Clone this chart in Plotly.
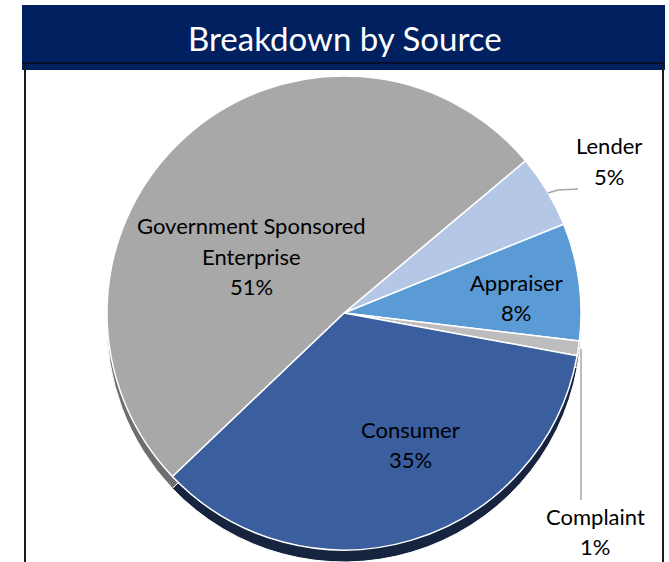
import plotly.graph_objects as go

# ---- data ----
sources = ["Lender", "Appraiser", "Complaint", "Consumer", "Government Sponsored Enterprise"]
shares = [5, 8, 1, 35, 51]
slice_colors = ["#B4C7E7", "#5B9BD5", "#BDBDBD", "#3A5E9E", "#A8A8A8"]
side_colors = ["#7A8DAE", "#345F8A", "#7A7A7A", "#16243F", "#6E6E6E"]
title_text = "Breakdown by Source"

W, H = 669, 562


def px(x):
    return x / W


def py(y):
    return 1 - y / H


# pie geometry (pixels)
cx, cy, r = 344, 313, 237
depth = 12
start_angle = 50

fig = go.Figure()

# darker copy, shifted down, gives the pie its edge/depth
fig.add_trace(go.Pie(
    labels=sources, values=shares, sort=False, direction="clockwise",
    rotation=start_angle, textinfo="none", hoverinfo="skip",
    marker=dict(colors=side_colors, line=dict(color="#FFFFFF", width=1)),
    domain=dict(x=[px(cx - r), px(cx + r)], y=[max(0, py(cy + depth + r)), py(cy + depth - r)]),
    showlegend=False,
))

# top face
fig.add_trace(go.Pie(
    labels=sources, values=shares, sort=False, direction="clockwise",
    rotation=start_angle, textinfo="none",
    marker=dict(colors=slice_colors, line=dict(color="#FFFFFF", width=1.5)),
    domain=dict(x=[px(cx - r), px(cx + r)], y=[py(cy + r), py(cy - r)]),
    showlegend=False,
))

shapes = [
    # title banner
    dict(type="rect", xref="paper", yref="paper", x0=px(22), x1=px(665), y0=py(70), y1=py(5),
         fillcolor="#002060", line=dict(width=0), layer="above"),
    # frame
    dict(type="line", xref="paper", yref="paper", x0=px(22), x1=px(665), y0=py(63), y1=py(63),
         line=dict(color="#0A0A1A", width=1.5), layer="above"),
    dict(type="line", xref="paper", yref="paper", x0=px(25), x1=px(25), y0=py(63), y1=0,
         line=dict(color="#1A1A1A", width=2), layer="above"),
    dict(type="line", xref="paper", yref="paper", x0=px(663), x1=px(663), y0=py(63), y1=0,
         line=dict(color="#1A1A1A", width=2), layer="above"),
    # leader lines for outside labels
    dict(type="line", xref="paper", yref="paper", x0=px(548), x1=px(558), y0=py(193), y1=py(190),
         line=dict(color="#A6A6A6", width=1.5), layer="above"),
    dict(type="line", xref="paper", yref="paper", x0=px(558), x1=px(578), y0=py(190), y1=py(189),
         line=dict(color="#A6A6A6", width=1.5), layer="above"),
    dict(type="line", xref="paper", yref="paper", x0=px(581), x1=px(581), y0=py(349), y1=py(500),
         line=dict(color="#A6A6A6", width=1.5), layer="above"),
]

# label placement: (x, y of first line) in pixels
label_pos = {
    "Lender": (609, 146),
    "Appraiser": (516, 282),
    "Complaint": (595, 516),
    "Consumer": (410, 429),
    "Government Sponsored Enterprise": (251, 226),
}
line_gap = 30
font = dict(family="Lato, Open Sans, sans-serif", size=22, color="#000000")

annotations = []
for name, val in zip(sources, shares):
    x0, y0 = label_pos[name]
    if name == "Government Sponsored Enterprise":
        lines = ["Government Sponsored", "Enterprise"]
    else:
        lines = [name]
    lines = lines + [f"{val}%"]
    for i, t in enumerate(lines):
        annotations.append(dict(
            x=px(x0), y=py(y0 + i * line_gap), xref="paper", yref="paper",
            text=t, showarrow=False, xanchor="center", yanchor="middle", font=font,
        ))

annotations.append(dict(
    x=px(345), y=py(38), xref="paper", yref="paper", text=title_text, showarrow=False,
    xanchor="center", yanchor="middle",
    font=dict(family="Lato, Open Sans, sans-serif", size=33, color="#FFFFFF"),
))

fig.update_layout(
    width=W, height=H, margin=dict(l=0, r=0, t=0, b=0),
    paper_bgcolor="#FFFFFF", plot_bgcolor="#FFFFFF",
    shapes=shapes, annotations=annotations,
)

fig.write_html("out.html")
